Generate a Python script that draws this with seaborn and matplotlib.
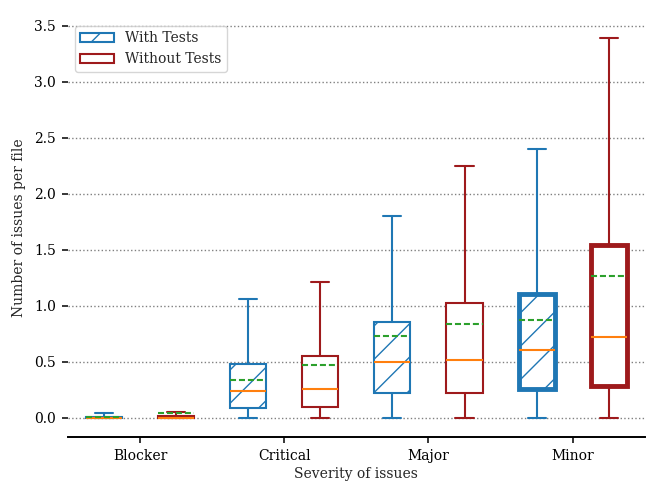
import matplotlib
matplotlib.use('Agg')
import matplotlib.pyplot as plt
import seaborn as sns
from matplotlib.patches import Patch

categories = ['Blocker', 'Critical', 'Major', 'Minor']
groups = ['With Tests', 'Without Tests']

with_low = [0.0, 0.0, 0.0, 0.0]
with_q1 = [0.0, 0.087, 0.226, 0.256]
with_med = [0.0, 0.24, 0.50, 0.61]
with_q3 = [0.01, 0.48, 0.857, 1.11]
with_high = [0.047, 1.06, 1.80, 2.40]
with_mean = [0.01, 0.34, 0.73, 0.87]

without_low = [0.0, 0.0, 0.0, 0.0]
without_q1 = [0.0, 0.10, 0.226, 0.286]
without_med = [0.0, 0.26, 0.515, 0.726]
without_q3 = [0.02, 0.55, 1.03, 1.545]
without_high = [0.056, 1.21, 2.25, 3.39]
without_mean = [0.047, 0.47, 0.84, 1.27]

BLUE = '#1f77b4'
RED = '#9e1a1c'

sns.set_theme(style='ticks')
plt.rcParams['font.family'] = ['DejaVu Serif']
plt.rcParams['hatch.linewidth'] = 1.0
FS = 10

fig = plt.figure(figsize=(6.64, 4.98), dpi=100)
ax = fig.add_axes([0.1024, 0.1225, 0.8686, 0.8394])

def stats(low, q1, med, q3, high, mean):
    return [dict(whislo=low[i], q1=q1[i], med=med[i], q3=q3[i], whishi=high[i],
                 mean=mean[i], fliers=[]) for i in range(len(categories))]

series = [
    (stats(with_low, with_q1, with_med, with_q3, with_high, with_mean), -0.25, BLUE, '/'),
    (stats(without_low, without_q1, without_med, without_q3, without_high, without_mean), 0.25, RED, ''),
]

lw = 1.5
for st, off, col, hatch in series:
    pos = [i + off for i in range(len(categories))]
    res = ax.bxp(st, positions=pos, widths=0.25, showmeans=True, meanline=True,
                 showfliers=False, patch_artist=True,
                 boxprops=dict(facecolor='white', edgecolor=col, linewidth=lw, hatch=hatch),
                 whiskerprops=dict(color=col, linewidth=lw),
                 capprops=dict(color=col, linewidth=lw),
                 medianprops=dict(color='#ff7f0e', linewidth=lw),
                 meanprops=dict(color='#2ca02c', linewidth=lw, linestyle='--',
                                dashes=(2.9, 1.4)))
    res['boxes'][-1].set_linewidth(3.5)

ax.set_xticks(range(len(categories)))
ax.set_xticklabels(categories, fontsize=FS)
ax.set_xlim(-0.5, 3.5)
ax.set_ylim(-0.17, 3.56)
ax.set_yticks([0, 0.5, 1.0, 1.5, 2.0, 2.5, 3.0, 3.5])
ax.set_yticklabels(['0.0', '0.5', '1.0', '1.5', '2.0', '2.5', '3.0', '3.5'], fontsize=FS)
ax.set_xlabel('Severity of issues', fontsize=FS, labelpad=3)
ax.set_ylabel('Number of issues per file', fontsize=FS, labelpad=6)
ax.yaxis.grid(True, linestyle=':', color='#808080', linewidth=1.0)
ax.set_axisbelow(True)
for s in ['top', 'right', 'left']:
    ax.spines[s].set_visible(False)
ax.spines['bottom'].set_linewidth(1.4)
ax.spines['bottom'].set_color('black')
ax.tick_params(axis='both', length=4.5, width=1.1, pad=4, colors='black')

handles = [Patch(facecolor='white', edgecolor=BLUE, hatch='/', linewidth=1.5, label=groups[0]),
           Patch(facecolor='white', edgecolor=RED, linewidth=1.5, label=groups[1])]
leg = ax.legend(handles=handles, loc='upper left', fontsize=FS, frameon=True,
                handlelength=2.4, borderaxespad=0.5)
leg.get_frame().set_edgecolor('#cccccc')
leg.get_frame().set_linewidth(1.0)

fig.savefig('out.png', dpi=100)
